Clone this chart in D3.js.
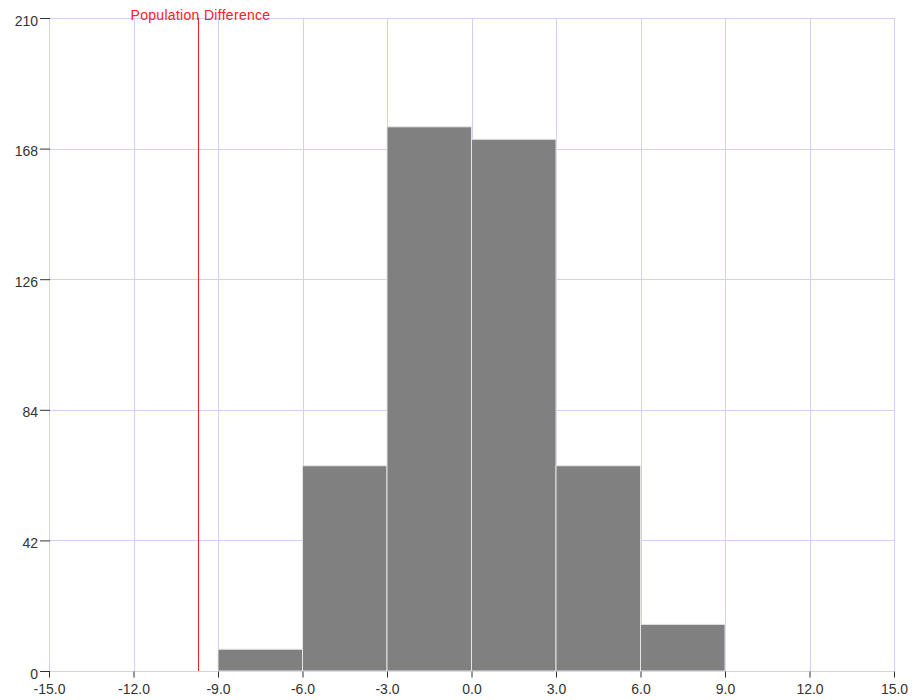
<!DOCTYPE html>
<html>
<head>
<meta charset="utf-8">
<script src="https://cdn.jsdelivr.net/npm/d3@7"></script>
<style>
  html, body { margin: 0; padding: 0; background: #fff; }
  svg text { font-family: "Liberation Sans", Arial, sans-serif; font-size: 14px; }
</style>
</head>
<body>
<svg id="chart" width="917" height="700"></svg>
<script>
// Histogram bins (lower edge, upper edge) and counts
const binStarts = [-9, -6, -3, 0, 3, 6];
const binEnds   = [-6, -3, 0, 3, 6, 9];
const counts    = [7, 66, 175, 171, 66, 15];

// Axis ticks
const xTicks = [-15, -12, -9, -6, -3, 0, 3, 6, 9, 12, 15];
const yTicks = [0, 42, 84, 126, 168, 210];

// Reference marker
const markerValue = -9.72;
const markerLabel = "Population Difference";

const svg = d3.select("#chart");
const plotLeft = 49, plotRight = 894, plotTop = 18, plotBottom = 671;

const x = d3.scaleLinear().domain([-15, 15]).range([plotLeft, plotRight]);
const y = d3.scaleLinear().domain([0, 210]).range([plotBottom, plotTop]);

const grid = "#d0d0f8";
const hyphen = s => s.replace("\u2212", "-");

// Grid lines
svg.append("g").selectAll("line").data(xTicks).join("line")
  .attr("x1", d => Math.round(x(d)) + 0.5).attr("x2", d => Math.round(x(d)) + 0.5)
  .attr("y1", plotTop).attr("y2", plotBottom)
  .attr("stroke", grid).attr("stroke-width", 1);
svg.append("g").selectAll("line").data(yTicks).join("line")
  .attr("x1", plotLeft).attr("x2", plotRight)
  .attr("y1", d => Math.round(y(d)) + 0.5).attr("y2", d => Math.round(y(d)) + 0.5)
  .attr("stroke", grid).attr("stroke-width", 1);

// Bars
const bins = binStarts.map((s, i) => ({ x0: s, x1: binEnds[i], n: counts[i] }));
svg.append("g").selectAll("rect").data(bins).join("rect")
  .attr("x", d => x(d.x0))
  .attr("width", d => x(d.x1) - x(d.x0))
  .attr("y", d => y(d.n))
  .attr("height", d => y(0) - y(d.n))
  .attr("fill", "#808080")
  .attr("stroke", "#e4e4e4")
  .attr("stroke-width", 1);

// Axes
const fmtX = d3.format(".1f");
const xAxis = d3.axisBottom(x).tickValues(xTicks).tickFormat(d => hyphen(fmtX(d)))
  .tickSize(6).tickPadding(7);
const gx = svg.append("g").attr("transform", `translate(0,${plotBottom + 0.5})`).call(xAxis);
gx.select(".domain").remove();
gx.selectAll(".tick line").attr("stroke", "#333");
gx.selectAll(".tick text").attr("fill", "#333").style("font-size", "14px");

const yAxis = d3.axisLeft(y).tickValues(yTicks).tickFormat(d3.format("d"))
  .tickSize(10).tickPadding(2);
const gy = svg.append("g").attr("transform", `translate(${plotLeft + 1},0)`).call(yAxis);
gy.select(".domain").remove();
gy.selectAll(".tick line").attr("stroke", "#333");
gy.selectAll(".tick text").attr("fill", "#333").attr("dy", "0.5em").style("font-size", "14px");

// Marker line and label
const mx = Math.round(x(markerValue)) + 0.5;
svg.append("line")
  .attr("x1", mx).attr("x2", mx).attr("y1", plotTop).attr("y2", plotBottom)
  .attr("stroke", "#e8202a").attr("stroke-width", 1);
svg.append("text")
  .attr("x", mx + 2).attr("y", 20)
  .attr("text-anchor", "middle")
  .attr("fill", "#ff2020")
  .style("letter-spacing", "0.3px")
  .text(markerLabel);
</script>
</body>
</html>
